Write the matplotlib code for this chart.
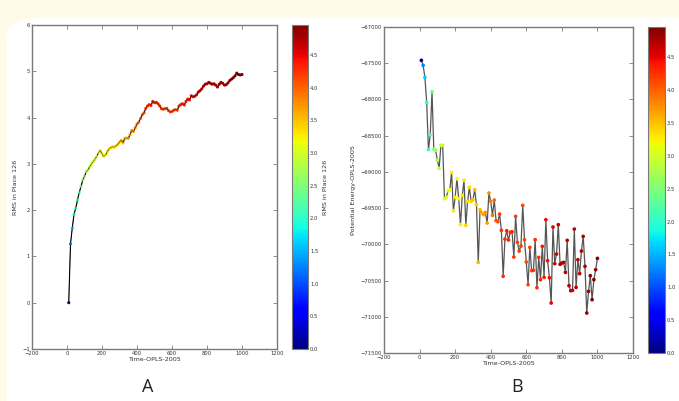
import numpy as np
import matplotlib
matplotlib.use("Agg")
import matplotlib.pyplot as plt
from matplotlib.patches import FancyBboxPatch

time = list(range(10, 1001, 10))

rms = [0.00, 1.27, 1.61, 1.91, 2.04, 2.22, 2.38, 2.51, 2.65, 2.73,
       2.83, 2.87, 2.94, 3.00, 3.05, 3.10, 3.16, 3.24, 3.29, 3.22,
       3.16, 3.19, 3.26, 3.32, 3.35, 3.37, 3.36, 3.39, 3.42, 3.47,
       3.51, 3.45, 3.55, 3.56, 3.55, 3.63, 3.72, 3.70, 3.78, 3.86,
       3.90, 3.98, 4.06, 4.10, 4.20, 4.25, 4.28, 4.26, 4.35, 4.32,
       4.33, 4.30, 4.25, 4.19, 4.18, 4.19, 4.20, 4.15, 4.12, 4.13,
       4.16, 4.17, 4.16, 4.25, 4.28, 4.30, 4.27, 4.35, 4.40, 4.38,
       4.47, 4.45, 4.46, 4.49, 4.55, 4.58, 4.62, 4.68, 4.72, 4.73,
       4.76, 4.74, 4.72, 4.73, 4.70, 4.66, 4.72, 4.76, 4.74, 4.70,
       4.71, 4.75, 4.80, 4.83, 4.86, 4.90, 4.96, 4.93, 4.92, 4.93]

energy = [-67460, -67530, -67695, -68040, -68694, -68486, -67893, -68689, -68700, -68836,
          -68951, -68633, -68633, -69370, -69352, -69260, -69246, -69006, -69536, -69352,
          -69094, -69370, -69729, -69324, -69117, -69738, -69407, -69213, -69407, -69384,
          -69246, -69453, -70249, -69522, -69568, -69591, -69559, -69706, -69292, -69407,
          -69600, -69389, -69674, -69688, -69582, -69807, -70442, -69927, -69812, -69941,
          -69835, -69826, -70175, -69614, -69973, -70093, -70023, -69462, -69936, -70244,
          -70557, -70042, -70364, -70359, -69936, -70599, -70180, -70488, -70028, -70456,
          -69660, -70226, -70461, -70810, -69761, -70267, -70134, -69729, -70276, -70258,
          -70249, -70387, -69945, -70571, -70640, -70636, -69789, -70594, -70212, -70405,
          -70093, -69890, -70304, -70948, -70649, -70433, -70764, -70488, -70350, -70194]

xticks = [-200, 0, 200, 400, 600, 800, 1000, 1200]
yticks_a = [-1, 0, 1, 2, 3, 4, 5, 6]
yticks_b = [-71500, -71000, -70500, -70000, -69500, -69000, -68500, -68000, -67500, -67000]
cbar_ticks = [0.0, 0.5, 1.0, 1.5, 2.0, 2.5, 3.0, 3.5, 4.0, 4.5]

plt.rcParams['font.family'] = ['DejaVu Sans']
W, H = 679, 401
fig = plt.figure(figsize=(W / 100, H / 100), dpi=100, facecolor='#fffbe9')
# white rounded panel over the cream background
fig.patches.append(FancyBboxPatch((7 / W, -0.1), 1.2, (H - 18) / H + 0.1,
                                  boxstyle="round,pad=0,rounding_size=0.05",
                                  transform=fig.transFigure, facecolor='white',
                                  edgecolor='none', zorder=-10))

def fx(px):
    return px / W

def fy(py):
    return 1 - py / H

tick_col = '#333333'
spine_col = '#7a7a7a'
fs_tick = 3.8
fs_lab = 4.6

def style(ax):
    for s in ax.spines.values():
        s.set_color(spine_col)
        s.set_linewidth(1.0)
    ax.tick_params(direction='in', length=3, width=0.6, colors=spine_col,
                   labelcolor=tick_col, labelsize=fs_tick, top=True, right=True, pad=1.5)

vmax = max(rms)
cmap = plt.get_cmap('jet')

# Panel A
axA = fig.add_axes([fx(32), fy(349), fx(277 - 32), (349 - 25) / H])
axA.plot(time, rms, color='black', lw=0.8, zorder=2)
scA = axA.scatter(time, rms, c=rms, cmap=cmap, vmin=0, vmax=vmax, s=5, edgecolors='none', zorder=3)
axA.plot(time, rms, color='black', lw=0.4, alpha=0.6, zorder=4)
axA.set_xlim(-200, 1200)
axA.set_ylim(-1, 6)
axA.set_xticks(xticks)
axA.set_yticks(yticks_a)
style(axA)
axA.set_xlabel('Time-OPLS-2005', fontsize=fs_lab, color=tick_col, labelpad=1)
axA.set_ylabel('RMS in Place 126', fontsize=fs_lab, color=tick_col, labelpad=3)

caxA = fig.add_axes([fx(292), fy(349), fx(16), (349 - 25) / H])
cbA = fig.colorbar(scA, cax=caxA, ticks=cbar_ticks, format='%.1f')
cbA.outline.set_edgecolor(spine_col)
caxA.tick_params(length=0, labelsize=fs_tick, labelcolor=tick_col, pad=1.5)
cbA.set_label('RMS in Place 126', fontsize=fs_lab, color=tick_col, labelpad=3)

# Panel B
axB = fig.add_axes([fx(384), fy(353), fx(633 - 384), (353 - 27) / H])
axB.plot(time, energy, color='#555555', lw=0.9, zorder=2)
scB = axB.scatter(time, energy, c=rms, cmap=cmap, vmin=0, vmax=vmax, s=7, edgecolors='none', zorder=3)
axB.set_xlim(-200, 1200)
axB.set_ylim(-71500, -67000)
axB.set_xticks(xticks)
axB.set_yticks(yticks_b)
style(axB)
axB.set_xlabel('Time-OPLS-2005', fontsize=fs_lab, color=tick_col, labelpad=1)
axB.set_ylabel('Potential Energy-OPLS-2005', fontsize=fs_lab, color=tick_col, labelpad=3)

caxB = fig.add_axes([fx(648), fy(353), fx(17), (353 - 27) / H])
cbB = fig.colorbar(scB, cax=caxB, ticks=cbar_ticks, format='%.1f')
cbB.outline.set_edgecolor(spine_col)
caxB.tick_params(length=0, labelsize=fs_tick, labelcolor=tick_col, pad=1.5)
cbB.set_label('RMS in Place 126', fontsize=fs_lab, color=tick_col, labelpad=3)

fig.text(fx(148), fy(387), 'A', fontsize=13, ha='center', va='center', color='#222222',
         family='Open Sans')
fig.text(fx(517), fy(387), 'B', fontsize=13, ha='center', va='center', color='#222222',
         family='Open Sans')

fig.savefig('out.png', dpi=100, facecolor=fig.get_facecolor())
